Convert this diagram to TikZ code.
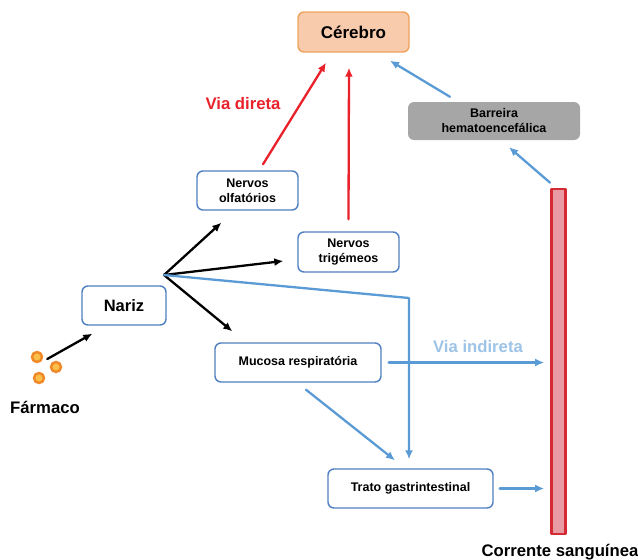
\documentclass[tikz,border=0pt]{standalone}
\usepackage{fontspec}
\setmainfont{Liberation Sans}
\usetikzlibrary{arrows.meta}

\definecolor{boxline}{HTML}{4f7fc0}
\definecolor{route}{HTML}{5b9bd5}
\definecolor{routetext}{HTML}{9dc3e6}
\definecolor{direct}{HTML}{e8212b}
\definecolor{brainfill}{HTML}{f8cbad}
\definecolor{brainline}{HTML}{f0a35e}
\definecolor{barrier}{HTML}{a6a6a6}
\definecolor{vesselline}{HTML}{d42a33}
\definecolor{vesselfill}{HTML}{e89ba2}
\definecolor{drug}{HTML}{f0892a}
\definecolor{drugcore}{HTML}{fbc04a}

\begin{document}
\begin{tikzpicture}[
  x=1pt, y=-1pt,
  line cap=round, line join=round,
  every node/.style={font=\bfseries, inner sep=1.5pt},
  organ/.style={draw=boxline, line width=1.4pt, rounded corners=6pt, fill=white, align=center, font=\bfseries\fontsize{12.5}{15}\selectfont},
  brain/.style={draw=brainline, fill=brainfill, line width=1.4pt, rounded corners=6pt, minimum width=111pt, minimum height=40pt, font=\bfseries\fontsize{17}{19}\selectfont},
  wall/.style={fill=barrier, rounded corners=6pt, minimum width=172pt, minimum height=38pt, align=center, font=\bfseries\fontsize{12.5}{15}\selectfont},
  vessel/.style={draw=vesselline, fill=vesselfill, line width=2.7pt, minimum width=14pt, minimum height=345pt, inner sep=0pt},
  particle/.style={circle, draw=drug, fill=drugcore, line width=2.5pt, minimum size=10pt, inner sep=0pt},
  label/.style={font=\bfseries\fontsize{16.7}{19}\selectfont},
  path/.style={line width=2.3pt, -{Latex[length=9pt,width=8pt]}},
  nasal/.style={path, draw=black},
  direct/.style={path, draw=direct},
  indirect/.style={path, draw=route},
]
\useasboundingbox (0,0) rectangle (638,560);

% nodes
\node[brain] (cer) at (353.5,32) {Cérebro};
\node[wall] (bhe) at (494,121) {Barreira\\hematoencefálica};
\node[organ, minimum width=101pt, minimum height=39pt] (olf) at (247.5,190.5) {Nervos\\olfatórios};
\node[organ, minimum width=101pt, minimum height=40pt] (tri) at (348.5,252) {Nervos\\trigémeos};
\node[organ, minimum width=84pt, minimum height=39pt, font=\bfseries\fontsize{16.5}{19}\selectfont] (nar) at (124,305.5) {Nariz};
\node[organ, minimum width=166pt, minimum height=39pt] (muc) at (298,362.5) {Mucosa respiratória};
\node[organ, minimum width=165pt, minimum height=39pt] (gas) at (410.5,488.5) {Trato gastrintestinal};
\node[vessel] (bld) at (558.5,361.5) {};

\node[particle] (p1) at (37,357) {};
\node[particle] (p2) at (56,367) {};
\node[particle] (p3) at (39,378) {};
\node[label] (far) at (45,407) {Fármaco};
\node[label] (cs) at (560,552) {Corrente sanguínea};
\node[label, text=direct] (vd) at (243,104) {Via direta};
\node[label, text=routetext] (vi) at (478,347) {Via indireta};

\coordinate (split) at (164,275);
\coordinate (bend) at (409,298);

% nasal entry
\draw[nasal] ([xshift=4pt,yshift=-2pt]p1.east) -- ([xshift=11pt,yshift=-8pt]nar.south west);
\draw[nasal] (split) -- ([xshift=25pt,yshift=-12pt]olf.south west);
\draw[nasal] (split) -- ([xshift=-14pt,yshift=-9pt]tri.west);
\draw[nasal] (split) -- ([xshift=18pt,yshift=11pt]muc.north west);

% direct route
\draw[direct] ([xshift=15.5pt,yshift=6pt]olf.north) -- ([xshift=-27.5pt,yshift=-10pt]cer.south);
\draw[direct] ([yshift=12pt]tri.north) -- ([xshift=-4.5pt,yshift=-15pt]cer.south);

% indirect route
\draw[indirect] (split) -- (bend) -- ([yshift=9pt]bend |- gas.north);
\draw[indirect] ([xshift=7pt]muc.east) -- ([xshift=-6pt]muc.east -| bld.west);
\draw[indirect] ([xshift=8pt,yshift=-7pt]muc.south) -- ([xshift=-15.5pt,yshift=8pt]gas.north);
\draw[indirect] ([xshift=6pt]gas.east) -- ([xshift=-6pt]gas.east -| bld.west);
\draw[indirect] ([xshift=-8.5pt,yshift=5pt]bld.north) -- ([xshift=15pt,yshift=-7pt]bhe.south);
\draw[indirect] ([xshift=-44pt,yshift=5pt]bhe.north) -- ([xshift=36.5pt,yshift=-8pt]cer.south);
\end{tikzpicture}
\end{document}
